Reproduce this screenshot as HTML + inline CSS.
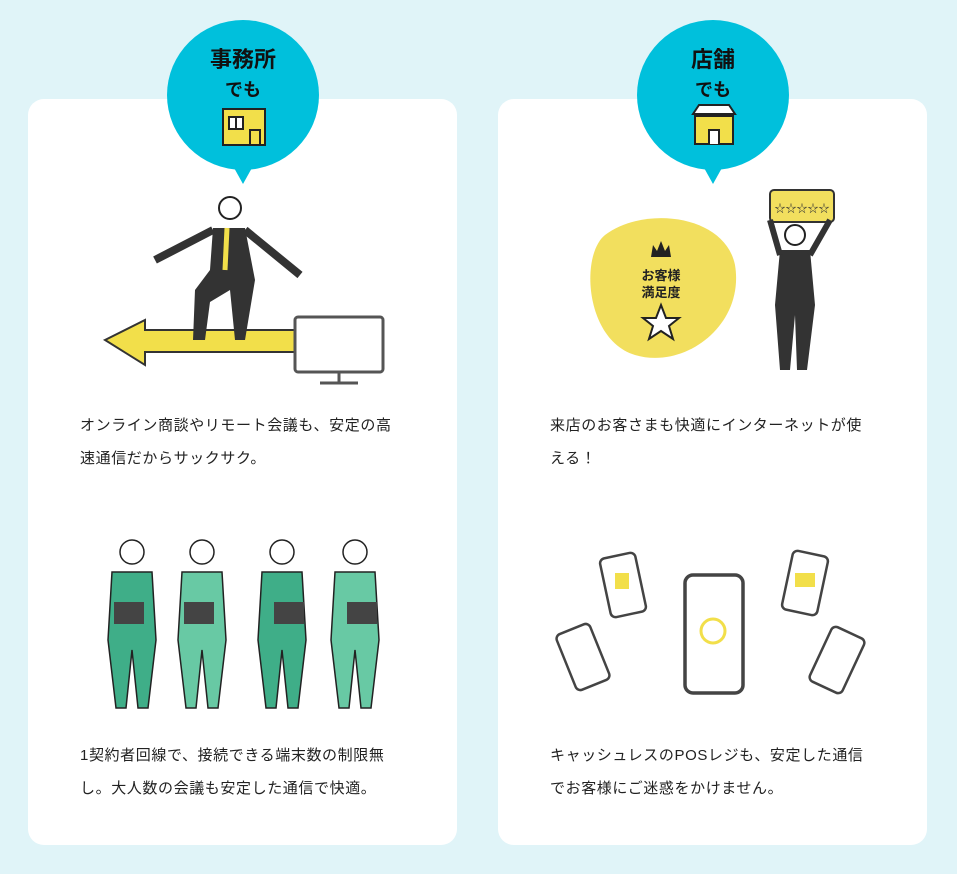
<!DOCTYPE html>
<html><head><meta charset="utf-8"><style>
body{margin:0;width:957px;height:874px;background:#e0f4f8;position:relative;overflow:hidden;font-family:"Liberation Sans","Noto Sans CJK JP",sans-serif;}
.card{position:absolute;top:99px;width:429px;height:746px;background:#fff;border-radius:16px;}
.bub{position:absolute;width:152px;height:150px;border-radius:50%;background:#00c0dc;top:20px;text-align:center;}
.bub:after{content:"";position:absolute;left:66px;bottom:-14px;border-left:10px solid transparent;border-right:10px solid transparent;border-top:18px solid #00c0dc;}
.t1{font-weight:bold;font-size:22px;margin-top:26px;color:#111;line-height:28px}
.t2{font-weight:bold;font-size:18px;color:#111;line-height:28px;margin-top:2px}
.txt{position:absolute;font-size:15px;line-height:33px;color:#222;letter-spacing:0.6px;width:360px}
svg{position:absolute}
</style></head><body>
<div class="card" style="left:28px"></div>
<div class="card" style="left:498px"></div>

<div class="bub" style="left:167px"><div class="t1">事務所</div><div class="t2">でも</div>
<svg style="left:55px;top:88px" width="44" height="38"><rect x="1" y="1" width="42" height="36" fill="#f2df4a" stroke="#222" stroke-width="2"/><rect x="7" y="9" width="14" height="12" fill="#fff" stroke="#222" stroke-width="2"/><line x1="14" y1="9" x2="14" y2="21" stroke="#222" stroke-width="2"/><path d="M28 37V22H38V37" fill="none" stroke="#222" stroke-width="2"/></svg></div>
<div class="bub" style="left:637px"><div class="t1">店舗</div><div class="t2">でも</div>
<svg style="left:54px;top:84px" width="46" height="42"><path d="M2 10L8 1H38L44 10Z" fill="#fff" stroke="#222" stroke-width="2"/><rect x="4" y="12" width="38" height="28" fill="#f2df4a" stroke="#222" stroke-width="2"/><path d="M18 40V26H28V40" fill="#fff" stroke="#222" stroke-width="2"/></svg></div>

<svg style="left:95px;top:190px" width="300" height="200">
<path d="M10 150L50 130V140H210V162H50V175Z" fill="#f2df4a" stroke="#333" stroke-width="2"/>
<rect x="200" y="127" width="88" height="55" rx="3" fill="#fff" stroke="#555" stroke-width="3"/><line x1="244" y1="182" x2="244" y2="193" stroke="#555" stroke-width="3"/><line x1="225" y1="193" x2="263" y2="193" stroke="#555" stroke-width="3"/>
<circle cx="135" cy="18" r="11" fill="#fff" stroke="#222" stroke-width="2"/>
<path d="M118 38L150 38L160 90L150 150L140 150L135 100L115 112L110 150L98 150L100 100L115 80Z" fill="#333"/>
<path d="M118 40L60 70M150 40L205 85" stroke="#333" stroke-width="8"/><path d="M132 38L130 80" stroke="#f2df4a" stroke-width="5"/>
</svg>
<div class="txt" style="left:80px;top:409px">オンライン商談やリモート会議も、安定の高<br>速通信だからサックサク。</div>

<svg style="left:100px;top:530px" width="290" height="190">
<g fill="#3fae88" stroke="#222" stroke-width="1.5">
<circle cx="32" cy="22" r="12" fill="#fff"/><path d="M12 42H52L56 110L48 178H38L32 120L26 178H16L8 110Z"/>
<circle cx="102" cy="22" r="12" fill="#fff"/><path d="M82 42H122L126 110L118 178H108L102 120L96 178H86L78 110Z" fill="#68c9a4"/>
<circle cx="182" cy="22" r="12" fill="#fff"/><path d="M162 42H202L206 110L198 178H188L182 120L176 178H166L158 110Z"/>
<circle cx="255" cy="22" r="12" fill="#fff"/><path d="M235 42H275L279 110L271 178H261L255 120L249 178H239L231 110Z" fill="#68c9a4"/>
</g>
<g fill="#444"><rect x="14" y="72" width="30" height="22"/><rect x="84" y="72" width="30" height="22"/><rect x="174" y="72" width="30" height="22"/><rect x="247" y="72" width="30" height="22"/></g>
</svg>
<div class="txt" style="left:80px;top:739px">1契約者回線で、接続できる端末数の制限無<br>し。大人数の会議も安定した通信で快適。</div>

<svg style="left:585px;top:185px" width="260" height="200">
<path d="M20 50C60 20 140 30 150 80C160 140 100 185 50 170C0 155 -5 70 20 50Z" fill="#f2df5e"/>
<text x="76" y="95" font-size="13" font-weight="bold" text-anchor="middle" fill="#222" font-family="Noto Sans CJK JP,sans-serif">お客様</text>
<text x="76" y="112" font-size="13" font-weight="bold" text-anchor="middle" fill="#222" font-family="Noto Sans CJK JP,sans-serif">満足度</text>
<path d="M76 120L81 133H94L84 141L88 154L76 146L64 154L68 141L58 133H71Z" fill="#fff" stroke="#222" stroke-width="2"/>
<path d="M66 72L68 60L72 66L76 56L80 66L84 60L86 72Z" fill="#222"/>
<rect x="185" y="5" width="64" height="32" rx="4" fill="#f2df5e" stroke="#333" stroke-width="2"/>
<text x="217" y="27" font-size="11" text-anchor="middle" fill="#333">☆☆☆☆☆</text>
<circle cx="210" cy="50" r="10" fill="#fff" stroke="#222" stroke-width="2"/>
<path d="M195 65H225L230 120L222 185H212L210 130L205 185H195L190 120Z" fill="#333"/>
<path d="M185 35L195 70M245 35L225 70" stroke="#333" stroke-width="6"/>
</svg>
<div class="txt" style="left:550px;top:409px">来店のお客さまも快適にインターネットが使<br>える！</div>

<svg style="left:555px;top:545px" width="320" height="160">
<g fill="#fff" stroke="#444" stroke-width="2.5">
<rect x="130" y="30" width="58" height="118" rx="8" stroke-width="3.5"/>
<rect x="50" y="10" width="36" height="60" rx="5" transform="rotate(-12 68 40)"/>
<rect x="10" y="82" width="36" height="60" rx="5" transform="rotate(-22 28 112)"/>
<rect x="232" y="8" width="36" height="60" rx="5" transform="rotate(12 250 38)"/>
<rect x="264" y="85" width="36" height="60" rx="5" transform="rotate(25 282 115)"/>
</g>
<circle cx="158" cy="86" r="12" fill="none" stroke="#f2df4a" stroke-width="3"/>
<rect x="240" y="28" width="20" height="14" fill="#f2df4a"/><rect x="60" y="28" width="14" height="16" fill="#f2df4a"/>
</svg>
<div class="txt" style="left:550px;top:739px">キャッシュレスのPOSレジも、安定した通信<br>でお客様にご迷惑をかけません。</div>
</body></html>
